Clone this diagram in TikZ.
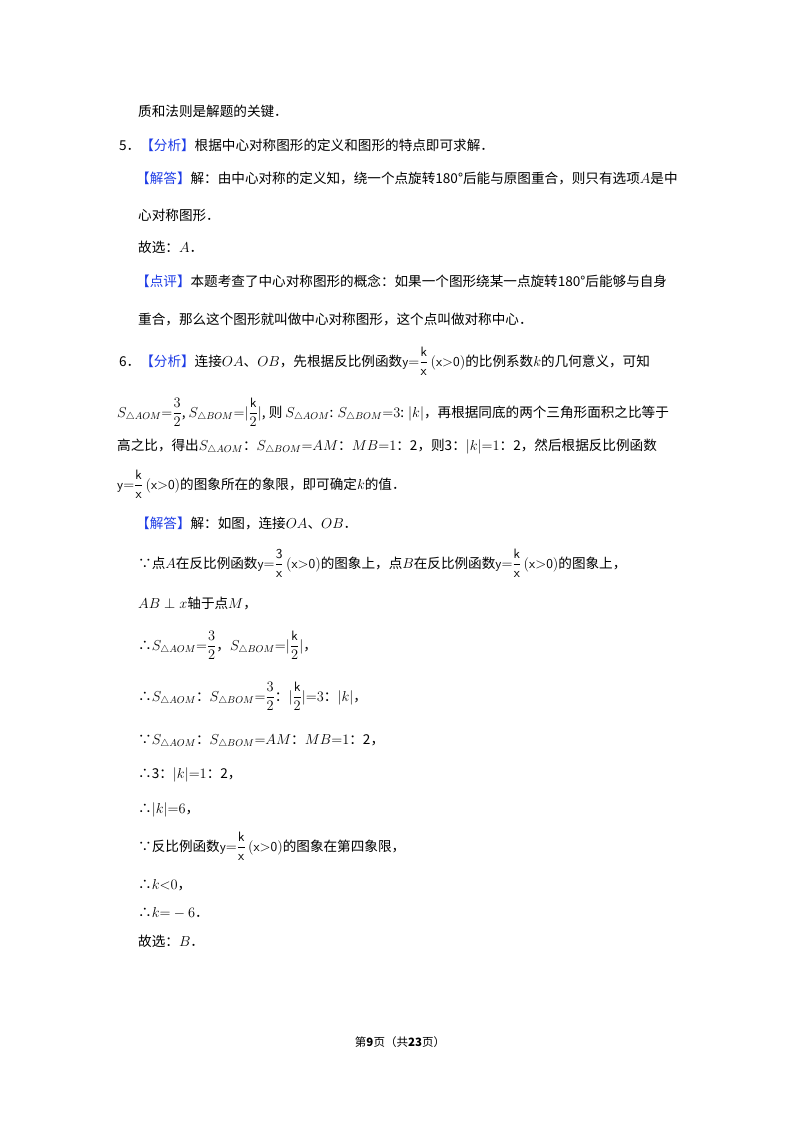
\documentclass[tikz,border=0pt]{standalone}
\usepackage{amsmath}
\usepackage{fontspec}
\setmainfont{Noto Sans CJK SC}
\definecolor{kb}{RGB}{30,60,230}
\newcommand{\kw}[1]{\textcolor{kb}{【#1】}}
\newcommand{\yk}[1]{$\mathsf{y{=}\dfrac{#1}{x}\,(x{>}0)}$}
\begin{document}
\begin{tikzpicture}[x=1pt,y=1pt,ln/.style={anchor=base west,inner sep=0pt,font=\fontsize{13.6}{16}\selectfont}]
\useasboundingbox[fill=white] (0,0) rectangle (800,-1132);
\node[ln] (l1) at (138,-116) {质和法则是解题的关键．};
\node[ln] (l2) at (119,-150) {5．\kw{分析}根据中心对称图形的定义和图形的特点即可求解．};
\node[ln] (l3) at (136,-183) {\kw{解答}解：由中心对称的定义知，绕一个点旋转180°后能与原图重合，则只有选项$A$是中};
\node[ln] (l4) at (138,-220) {心对称图形．};
\node[ln] (l5) at (138,-252) {故选：$A$．};
\node[ln] (l6) at (136,-286) {\kw{点评}本题考查了中心对称图形的概念：如果一个图形绕某一点旋转180°后能够与自身};
\node[ln] (l7) at (138,-324) {重合，那么这个图形就叫做中心对称图形，这个点叫做对称中心．};
\node[ln] (l8) at (119,-366) {6．\kw{分析}连接$OA$、$OB$，先根据反比例函数\yk{k}的比例系数$k$的几何意义，可知};
\node[ln] (l9) at (117,-417) {$S_{\triangle AOM}{=}\dfrac{3}{2}$, $S_{\triangle BOM}{=}|\dfrac{\mathsf k}{2}|$, 则 $S_{\triangle AOM}$: $S_{\triangle BOM}{=}3$: $|k|$，再根据同底的两个三角形面积之比等于};
\node[ln] (l10) at (117,-450) {高之比，得出$S_{\triangle AOM}$：$S_{\triangle BOM}{=}AM$：$MB{=}1$：2，则3：$|k|{=}1$：2，然后根据反比例函数};
\node[ln] (l11) at (117,-489) {\yk{k}的图象所在的象限，即可确定$k$的值．};
\node[ln] (l12) at (136,-528) {\kw{解答}解：如图，连接$OA$、$OB$．};
\node[ln] (l13) at (138,-568) {∵点$A$在反比例函数\yk{3}的图象上，点$B$在反比例函数\yk{k}的图象上，};
\node[ln] (l14) at (138,-608) {$AB\perp x$轴于点$M$，};
\node[ln] (l15) at (138,-650) {∴$S_{\triangle AOM}{=}\dfrac{3}{2}$，$S_{\triangle BOM}{=}|\dfrac{\mathsf k}{2}|$，};
\node[ln] (l16) at (138,-701) {∴$S_{\triangle AOM}$：$S_{\triangle BOM}{=}\dfrac{3}{2}$：$|\dfrac{\mathsf k}{2}|{=}3$：$|k|$，};
\node[ln] (l17) at (138,-744) {∵$S_{\triangle AOM}$：$S_{\triangle BOM}{=}AM$：$MB{=}1$：2，};
\node[ln] (l18) at (138,-778) {∴3：$|k|{=}1$：2，};
\node[ln] (l19) at (138,-813) {∴$|k|{=}6$，};
\node[ln] (l20) at (138,-851) {∵反比例函数\yk{k}的图象在第四象限，};
\node[ln] (l21) at (138,-889) {∴$k{<}0$，};
\node[ln] (l22) at (138,-917) {∴$k{=}-6$．};
\node[ln] (l23) at (138,-946) {故选：$B$．};
\node[anchor=base,inner sep=0pt,font=\fontsize{11.5}{13}\selectfont] (ft) at (400,-1046) {第\textbf{9}页（共\textbf{23}页）};
\end{tikzpicture}
\end{document}
